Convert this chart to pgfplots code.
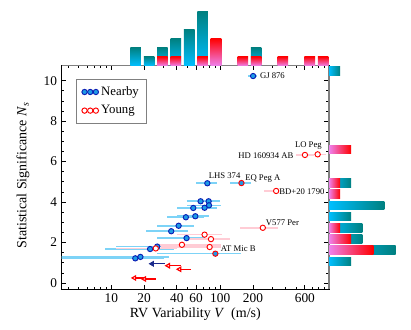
\documentclass[border=0pt]{standalone}
\usepackage{fontspec}
\setmainfont{Liberation Serif}
\usepackage{pgfplots}
\pgfplotsset{compat=1.18}

\definecolor{nbfill}{HTML}{1E9BE6}
\definecolor{nbedge}{HTML}{0A1EB4}
\definecolor{nberr}{HTML}{7DD3F7}
\definecolor{ygerr}{HTML}{FFCCD5}
\definecolor{hcyan}{HTML}{00BFFF}
\definecolor{hteal}{HTML}{008080}
\definecolor{hviolet}{HTML}{EE82EE}
\definecolor{hred}{HTML}{FF0000}
\definecolor{arrblue}{HTML}{1A2A8C}

\begin{document}
\begin{tikzpicture}[x=1pt,y=1pt]
\path[use as bounding box] (-46.3,-29.8) rectangle (262,217);

% main scatter panel
\begin{axis}[
    at={(0pt,0pt)}, anchor=south west,
    scale only axis, width=200.5pt, height=167.7pt,
    xmode=log, xmin=3.5, xmax=1000,
    ymin=-0.31, ymax=10.74,
    xtick={10,20,40,60,100,200,600},
    xticklabels={10,20,40,60,100,200,600},
    minor xtick={4,5,6,7,8,9,30,50,70,80,90,300,400,500,700,800,900},
    ytick={0,2,4,6,8,10},
    minor y tick num=3,
    major tick length=3.5pt, minor tick length=2pt,
    every tick/.style={black, line width=0.6pt},
    axis line style={line width=0.75pt},
    /pgf/number format/assume math mode=true,
    tick label style={font=\fontsize{10}{12}\selectfont},
    xlabel={RV Variability \textit{V}\ \ (m/s)},
    ylabel={Statistical Significance \textit{N}\textsubscript{\textit{s}}},
    label style={font=\fontsize{10.5}{12}\selectfont},
    xlabel style={at={(axis description cs:0.5,0)}, yshift=-18.5pt, anchor=center},
    ylabel style={at={(axis description cs:-0.145,0.51)}, anchor=center},
    legend style={at={(0.0535,0.942)}, anchor=north west, draw=gray, line width=0.8pt,
        fill=white, font=\fontsize{9.6}{11}\selectfont, inner xsep=4pt, inner ysep=3.5pt,
        row sep=2pt, cells={anchor=west}},
    legend image code/.code={\draw[mark repeat=1,#1] plot coordinates {(0pt,0pt) (4.25pt,0pt) (8.5pt,0pt)};},
]

% error bars, nearby (one short plot per star)
\addplot[draw=nberr, line width=1.2pt, forget plot] coordinates {(180.4,10.23) (220.2,10.23)};
\addplot[draw=nberr, line width=1.2pt, forget plot] coordinates {(60.3,4.93) (92.8,4.93)};
\addplot[draw=nberr, line width=1.2pt, forget plot] coordinates {(49.1,4.04) (98.9,4.04)};
\addplot[draw=nberr, line width=1.2pt, forget plot] coordinates {(57.0,4.04) (98.9,4.04)};
\addplot[draw=nberr, line width=1.2pt, forget plot] coordinates {(49.9,3.84) (101.1,3.84)};
\addplot[draw=nberr, line width=1.2pt, forget plot] coordinates {(40.3,3.72) (94.2,3.72)};
\addplot[draw=nberr, line width=1.2pt, forget plot] coordinates {(40.3,3.71) (87.7,3.71)};
\addplot[draw=nberr, line width=1.2pt, forget plot] coordinates {(40.3,3.30) (78.9,3.30)};
\addplot[draw=nberr, line width=1.2pt, forget plot] coordinates {(32.6,3.25) (70.9,3.25)};
\addplot[draw=nberr, line width=1.2pt, forget plot] coordinates {(26.4,2.83) (57.3,2.83)};
\addplot[draw=nberr, line width=1.2pt, forget plot] coordinates {(20.9,2.56) (50.9,2.56)};
\addplot[draw=nberr, line width=1.2pt, forget plot] coordinates {(26.4,2.22) (70.9,2.22)};
\addplot[draw=nberr, line width=1.2pt, forget plot] coordinates {(11.1,1.80) (41.7,1.80)};
\addplot[draw=nberr, line width=1.2pt, forget plot] coordinates {(8.8,1.68) (37.5,1.68)};
\addplot[draw=nberr, line width=1.2pt, forget plot] coordinates {(2,1.29) (33.7,1.29)};
\addplot[draw=nberr, line width=1.2pt, forget plot] coordinates {(2,1.22) (30.3,1.22)};
\addplot[draw=nberr, line width=1.2pt, forget plot] coordinates {(123.1,4.94) (191,4.94)};
\addplot[draw=nberr, line width=1.2pt, forget plot] coordinates {(26.4,1.45) (154.5,1.45)};
% error bars, young
\addplot[draw=ygerr, line width=1.2pt, forget plot] coordinates {(654,6.36) (938,6.36)};
\addplot[draw=ygerr, line width=1.2pt, forget plot] coordinates {(496.6,6.33) (731.9,6.33)};
\addplot[draw=ygerr, line width=1.2pt, forget plot] coordinates {(253,4.55) (335,4.55)};
\addplot[draw=ygerr, line width=1.2pt, forget plot] coordinates {(152.2,2.73) (340.9,2.73)};
\addplot[draw=ygerr, line width=1.2pt, forget plot] coordinates {(40.3,2.39) (104.8,2.39)};
\addplot[draw=ygerr, line width=1.2pt, forget plot] coordinates {(49.9,2.17) (123.1,2.17)};
\addplot[draw=ygerr, line width=1.2pt, forget plot] coordinates {(26.4,1.89) (101.1,1.89)};
\addplot[draw=ygerr, line width=1.2pt, forget plot] coordinates {(28.3,1.78) (101.1,1.78)};
\addplot[draw=ygerr, line width=1.2pt, forget plot] coordinates {(11.1,1.71) (40.3,1.71)};

% upper limits
\addplot[arrblue, line width=0.9pt, forget plot, mark=triangle*, mark indices={1}, mark size=1.8pt,
    mark options={rotate=90, fill=arrblue}] coordinates {(23.7,0.95) (30.8,0.95)};
\addplot[red, line width=0.9pt, forget plot, mark=triangle*, mark indices={1}, mark size=1.8pt,
    mark options={rotate=90, fill=white}] coordinates {(33.3,0.855) (43.2,0.855)};
\addplot[red, line width=0.9pt, forget plot, mark=triangle*, mark indices={1}, mark size=1.8pt,
    mark options={rotate=90, fill=white}] coordinates {(42.3,0.68) (54.3,0.68)};
\addplot[red, line width=0.9pt, forget plot, mark=triangle*, mark indices={1}, mark size=1.8pt,
    mark options={rotate=90, fill=white}] coordinates {(20.1,0.20) (25.8,0.20)};
\addplot[red, line width=0.9pt, forget plot, mark=triangle*, mark indices={1}, mark size=1.8pt,
    mark options={rotate=90, fill=white}] coordinates {(16.3,0.25) (20.9,0.25)};

% points
\addplot[only marks, mark=*, mark size=2pt, mark options={draw=nbedge, fill=nbfill, line width=0.7pt}] coordinates {
    (200.6,10.23) (76.2,4.93) (66.1,4.04) (78.3,4.04) (78.9,3.84) (71.9,3.72)
    (56.6,3.71) (59.1,3.30) (48.4,3.25) (41.5,2.83) (35.5,2.56) (49.1,2.22)
    (26.4,1.80) (22.7,1.68) (18.5,1.29) (16.6,1.22)
};
\addlegendentry{Nearby}
\addplot[only marks, mark=*, mark size=2pt, mark options={draw=red, fill=white, line width=0.7pt}] coordinates {
    (786.6,6.36) (600.9,6.33) (326.8,4.55) (246.4,2.73) (71.9,2.39) (82.3,2.17)
    (44.5,1.89) (80.0,1.78) (25.6,1.71)
};
\addlegendentry{Young}
\addplot[only marks, forget plot, mark=*, mark size=2pt, mark options={draw=red, fill=nbfill, line width=0.7pt}] coordinates {
    (156.8,4.94) (90.3,1.45)
};

% star names
\begin{scope}[every node/.style={inner sep=0pt, font=\fontsize{6.5}{7}\selectfont}]
\node[anchor=west] at (axis cs:231,10.23) {GJ 876};
\node[anchor=east] at (axis cs:862,6.77) {LO Peg};
\node[anchor=east] at (axis cs:473,6.29) {HD 160934 AB};
\node[anchor=west] at (axis cs:78.3,5.29) {LHS 374};
\node[anchor=west] at (axis cs:169,5.17) {EQ Peg A};
\node[anchor=west] at (axis cs:348,4.51) {BD+20 1790};
\node[anchor=west] at (axis cs:262,3.0) {V577 Per};
\node[anchor=west] at (axis cs:101,1.72) {AT Mic B};
\end{scope}
\end{axis}

% histogram of V (top)
\begin{axis}[
    at={(0pt,167.7pt)}, anchor=south west,
    scale only axis, width=200.5pt, height=49.3pt,
    xmode=log, xmin=3.5, xmax=1000, ymin=0, ymax=7.26,
    axis x line=bottom, axis y line=none,
    xtick=\empty, ytick=\empty,
    axis line style={draw=gray, line width=1.1pt, -},
]
\addplot[draw=none, bottom color=hcyan, top color=hteal] coordinates {(14.97,0) (14.97,2) (18.70,2) (18.70,0)} -- cycle;
\addplot[draw=none, bottom color=hcyan, top color=hteal] coordinates {(19.87,0) (19.87,1) (24.83,1) (24.83,0)} -- cycle;
\addplot[draw=none, bottom color=hcyan, top color=hteal] coordinates {(26.38,0) (26.38,2) (32.96,2) (32.96,0)} -- cycle;
\addplot[draw=none, bottom color=hcyan, top color=hteal] coordinates {(35.02,0) (35.02,3) (43.75,3) (43.75,0)} -- cycle;
\addplot[draw=none, bottom color=hcyan, top color=hteal] coordinates {(46.49,0) (46.49,4) (58.09,4) (58.09,0)} -- cycle;
\addplot[draw=none, bottom color=hcyan, top color=hteal] coordinates {(61.70,0) (61.70,6) (77.12,6) (77.12,0)} -- cycle;
\addplot[draw=none, bottom color=hcyan, top color=hteal] coordinates {(191.7,0) (191.7,2) (239.5,2) (239.5,0)} -- cycle;
\addplot[draw=none, bottom color=hviolet, top color=hred] coordinates {(26.38,0) (26.38,1) (32.96,1) (32.96,0)} -- cycle;
\addplot[draw=none, bottom color=hviolet, top color=hred] coordinates {(35.02,0) (35.02,1) (43.75,1) (43.75,0)} -- cycle;
\addplot[draw=none, bottom color=hviolet, top color=hred] coordinates {(61.70,0) (61.70,1) (77.12,1) (77.12,0)} -- cycle;
\addplot[draw=none, bottom color=hviolet, top color=hred] coordinates {(81.89,0) (81.89,3) (102.4,3) (102.4,0)} -- cycle;
\addplot[draw=none, bottom color=hviolet, top color=hred] coordinates {(144.3,0) (144.3,1) (180.4,1) (180.4,0)} -- cycle;
\addplot[draw=none, bottom color=hviolet, top color=hred] coordinates {(191.7,0) (191.7,1) (239.5,1) (239.5,0)} -- cycle;
\addplot[draw=none, bottom color=hviolet, top color=hred] coordinates {(337.8,0) (337.8,1) (422.0,1) (422.0,0)} -- cycle;
\addplot[draw=none, bottom color=hviolet, top color=hred] coordinates {(595.2,0) (595.2,1) (743.7,1) (743.7,0)} -- cycle;
\addplot[draw=none, bottom color=hviolet, top color=hred] coordinates {(790.0,0) (790.0,1) (987.4,1) (987.4,0)} -- cycle;
\end{axis}

% histogram of N_s (right)
\begin{axis}[
    at={(200.5pt,0pt)}, anchor=south west,
    scale only axis, width=61.5pt, height=167.7pt,
    xmin=0, xmax=7.39, ymin=-0.31, ymax=10.74,
    axis y line=left, axis x line=none,
    xtick=\empty, ytick=\empty,
    axis line style={draw=gray, line width=1.1pt, -},
]
\addplot[draw=none, left color=hcyan, right color=hteal] coordinates {(0,10.26) (1,10.26) (1,10.68) (0,10.68)} -- cycle;
\addplot[draw=none, left color=hcyan, right color=hteal] coordinates {(0,4.731) (2,4.731) (2,5.151) (0,5.151)} -- cycle;
\addplot[draw=none, left color=hcyan, right color=hteal] coordinates {(0,3.625) (5,3.625) (5,4.045) (0,4.045)} -- cycle;
\addplot[draw=none, left color=hcyan, right color=hteal] coordinates {(0,3.072) (2,3.072) (2,3.492) (0,3.492)} -- cycle;
\addplot[draw=none, left color=hcyan, right color=hteal] coordinates {(0,2.519) (3,2.519) (3,2.939) (0,2.939)} -- cycle;
\addplot[draw=none, left color=hcyan, right color=hteal] coordinates {(0,1.966) (3,1.966) (3,2.386) (0,2.386)} -- cycle;
\addplot[draw=none, left color=hcyan, right color=hteal] coordinates {(0,1.413) (6,1.413) (6,1.833) (0,1.833)} -- cycle;
\addplot[draw=none, left color=hcyan, right color=hteal] coordinates {(0,0.860) (2,0.860) (2,1.280) (0,1.280)} -- cycle;
\addplot[draw=none, left color=hviolet, right color=hred] coordinates {(0,6.39) (2,6.39) (2,6.81) (0,6.81)} -- cycle;
\addplot[draw=none, left color=hviolet, right color=hred] coordinates {(0,4.731) (1,4.731) (1,5.151) (0,5.151)} -- cycle;
\addplot[draw=none, left color=hviolet, right color=hred] coordinates {(0,4.178) (1,4.178) (1,4.598) (0,4.598)} -- cycle;
\addplot[draw=none, left color=hviolet, right color=hred] coordinates {(0,2.519) (1,2.519) (1,2.939) (0,2.939)} -- cycle;
\addplot[draw=none, left color=hviolet, right color=hred] coordinates {(0,1.966) (2,1.966) (2,2.386) (0,2.386)} -- cycle;
\addplot[draw=none, left color=hviolet, right color=hred] coordinates {(0,1.413) (4,1.413) (4,1.833) (0,1.833)} -- cycle;
\end{axis}
\end{tikzpicture}
\end{document}
